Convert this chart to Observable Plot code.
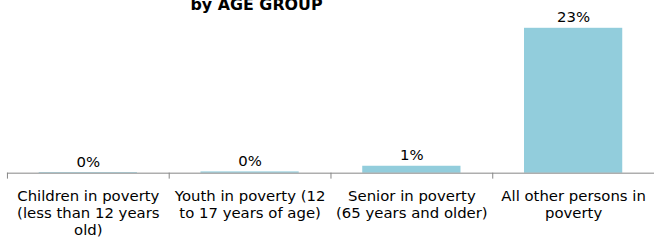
<!DOCTYPE html>
<html><head><meta charset="utf-8">
<script src="https://cdn.jsdelivr.net/npm/d3@7"></script>
<script src="https://cdn.jsdelivr.net/npm/@observablehq/plot@0.6"></script>
<style>
html,body{margin:0;padding:0;background:#fff;overflow:hidden;}
#chart svg{display:block;}
</style></head><body><div id="chart"></div>
<script>
const title = "by AGE GROUP";
const categories = [
  "Children in poverty (less than 12 years old)",
  "Youth in poverty (12 to 17 years of age)",
  "Senior in poverty (65 years and older)",
  "All other persons in poverty"
];
const tickLabels = [
  "Children in poverty\n(less than 12 years\nold)",
  "Youth in poverty (12\nto 17 years of age)",
  "Senior in poverty\n(65 years and older)",
  "All other persons in\npoverty"
];
const values = [0.1, 0.2, 1.1, 23.0];
const valueLabels = ["0%", "0%", "1%", "23%"];

const data = categories.map((c, i) => ({category: c, value: values[i], label: valueLabels[i]}));
const labelOf = new Map(categories.map((c, i) => [c, tickLabels[i]]));

const plot = Plot.plot({
  width: 660, height: 241,
  marginLeft: 7, marginRight: 1, marginTop: 28, marginBottom: 67,
  style: {fontFamily: "'DejaVu Sans', Verdana, sans-serif", fontSize: "15px", color: "#000", background: "#fff"},
  x: {domain: categories, paddingInner: 0.39, paddingOuter: 0.195, label: null},
  y: {domain: [0, 23], axis: null},
  marks: [
    Plot.barY(data, {x: "category", y: "value", fill: "#92CDDC"}),
    Plot.ruleY([0], {stroke: "#868686"}),
    Plot.axisX({tickSize: 6, dx: -81.5, tickFormat: () => "", label: null, stroke: "#868686", strokeOpacity: 1}),
    Plot.axisX({tickSize: 0, tickPadding: 16, tickFormat: d => labelOf.get(d), label: null, lineHeight: 1.133, fontSize: 15}),
    Plot.text(data, {x: "category", y: "value", text: "label", lineAnchor: "bottom", dy: -6, fontSize: 15}),
    Plot.text([title], {frameAnchor: "top", dx: -75, dy: -18, fontWeight: "bold", fontSize: 16, lineAnchor: "bottom"})
  ]
});
document.getElementById("chart").appendChild(plot);
</script>
</body></html>
